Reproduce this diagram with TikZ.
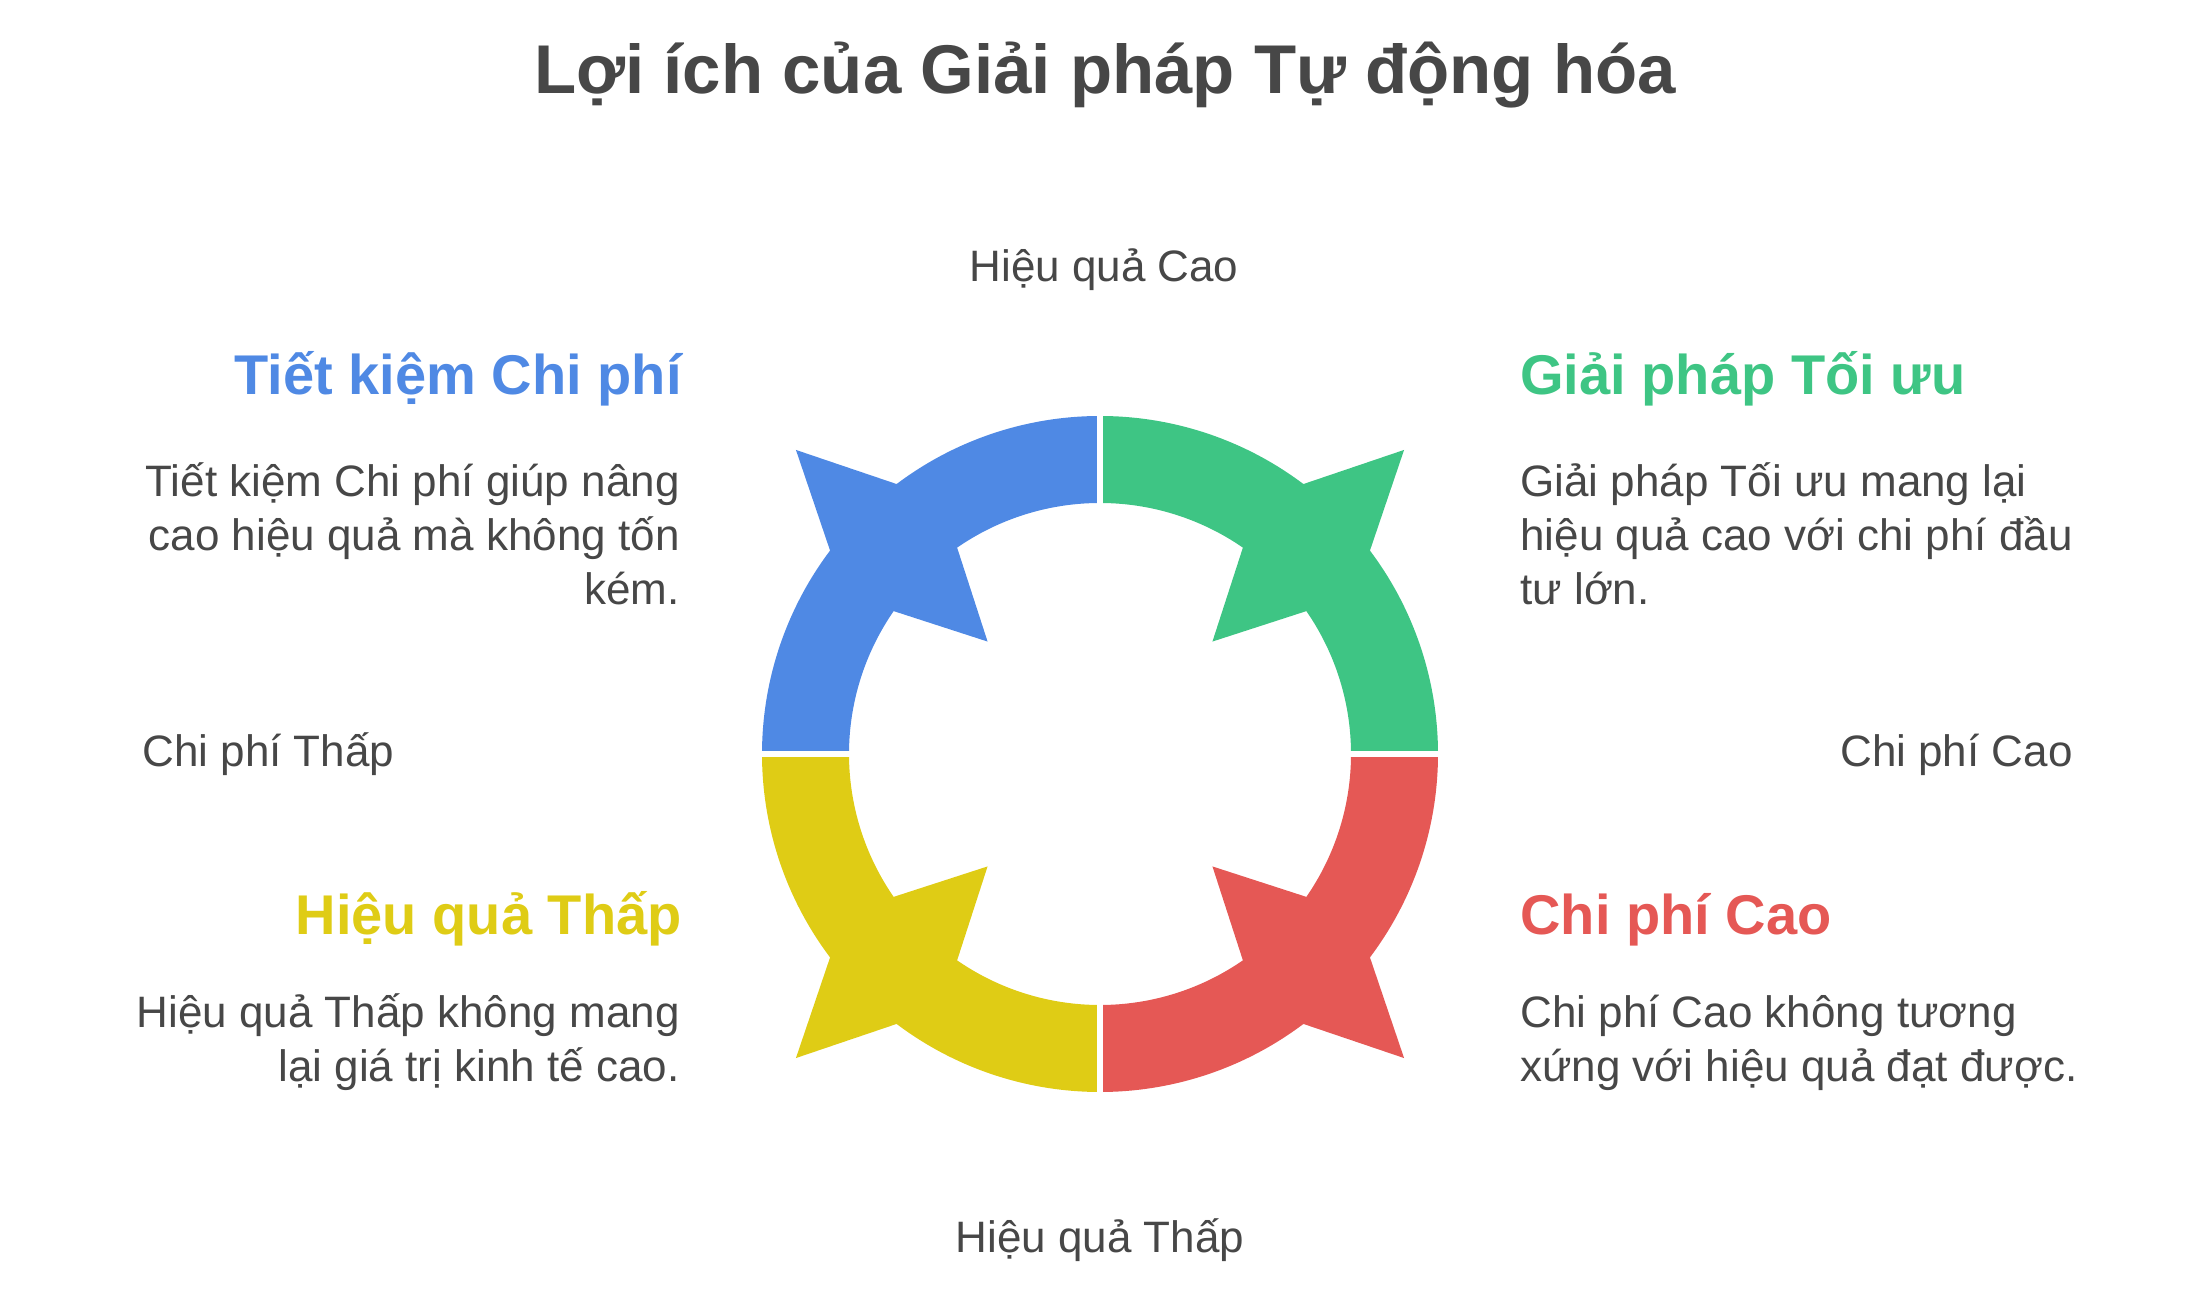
\documentclass[tikz,border=0pt]{standalone}
\usepackage{fontspec}
\setmainfont{Liberation Sans}
\usepackage{xcolor}
\usepackage{tikz}
\definecolor{ink}{HTML}{474747}
\definecolor{blueQ}{HTML}{4F89E4}
\definecolor{greenQ}{HTML}{3EC584}
\definecolor{yellowQ}{HTML}{DFCC15}
\definecolor{redQ}{HTML}{E55855}
\tikzset{
  gapLine/.style={draw=white, line width=3pt},
  titleText/.style={text=ink, font=\fontsize{34.5}{42}\selectfont\bfseries, inner sep=0pt},
  headText/.style={font=\fontsize{28}{34}\selectfont\bfseries, inner sep=0pt},
  bodyText/.style={text=ink, font=\fontsize{22}{27}\selectfont, inner sep=0pt},
  axisText/.style={text=ink, font=\fontsize{22}{27}\selectfont, inner sep=0pt}
}
\begin{document}
\begin{tikzpicture}[x=0.5pt,y=0.5pt]
  \useasboundingbox (0,0) rectangle (2196,1296);
  \def\R{338}
  \def\r{251}
  \coordinate (C) at (1100,542);

  \foreach \a/\col in {0/greenQ,90/blueQ,180/yellowQ,270/redQ}{
    \pgfmathsetmacro\m{\a+45}
    \fill[\col] ([shift={(\a:\R)}]C) arc[start angle=\a, end angle=\m-8, radius=\R]
      -- ([shift={(\m:430)}]C) -- ([shift={(\m+8:\R)}]C)
      arc[start angle=\m+8, end angle=\a+90, radius=\R]
      -- ([shift={(\a+90:\r)}]C)
      arc[start angle=\a+90, end angle=\m+10.3, radius=\r]
      -- ([shift={(\m:159)}]C) -- ([shift={(\m-10.3:\r)}]C)
      arc[start angle=\m-10.3, end angle=\a, radius=\r] -- cycle;
  }
  \draw[gapLine] ([xshift=-180pt]C) -- ([xshift=180pt]C);
  \draw[gapLine] ([yshift=-180pt]C) -- ([yshift=180pt]C);

  \node[titleText, anchor=base] (title) at (1105,1202) {Lợi ích của Giải pháp Tự động hóa};
  \node[axisText, anchor=base] (hqCao) at (1104,1014) {Hiệu quả Cao};
  \node[axisText, anchor=base] (hqThap) at (1100,43) {Hiệu quả Thấp};
  \node[axisText, anchor=base west] (cpThap) at (142,529) {Chi phí Thấp};
  \node[axisText, anchor=base east] (cpCao) at (2073,529) {Chi phí Cao};

  \node[headText, text=blueQ, anchor=base east] (tkHead) at (682,901) {Tiết kiệm Chi phí};
  \node[bodyText, align=right, anchor=base east] (tkBody) at (680,691) {Tiết kiệm Chi phí giúp nâng\\cao hiệu quả mà không tốn\\kém.};
  \node[headText, text=greenQ, anchor=base west] (gpHead) at (1520,901) {Giải pháp Tối ưu};
  \node[bodyText, align=left, anchor=base west] (gpBody) at (1520,691) {Giải pháp Tối ưu mang lại\\hiệu quả cao với chi phí đầu\\tư lớn.};
  \node[headText, text=yellowQ, anchor=base east] (hqHead) at (682,361) {Hiệu quả Thấp};
  \node[bodyText, align=right, anchor=base east] (hqBody) at (680,214) {Hiệu quả Thấp không mang\\lại giá trị kinh tế cao.};
  \node[headText, text=redQ, anchor=base west] (cpHead) at (1520,361) {Chi phí Cao};
  \node[bodyText, align=left, anchor=base west] (cpBody) at (1520,214) {Chi phí Cao không tương\\xứng với hiệu quả đạt được.};
\end{tikzpicture}
\end{document}
